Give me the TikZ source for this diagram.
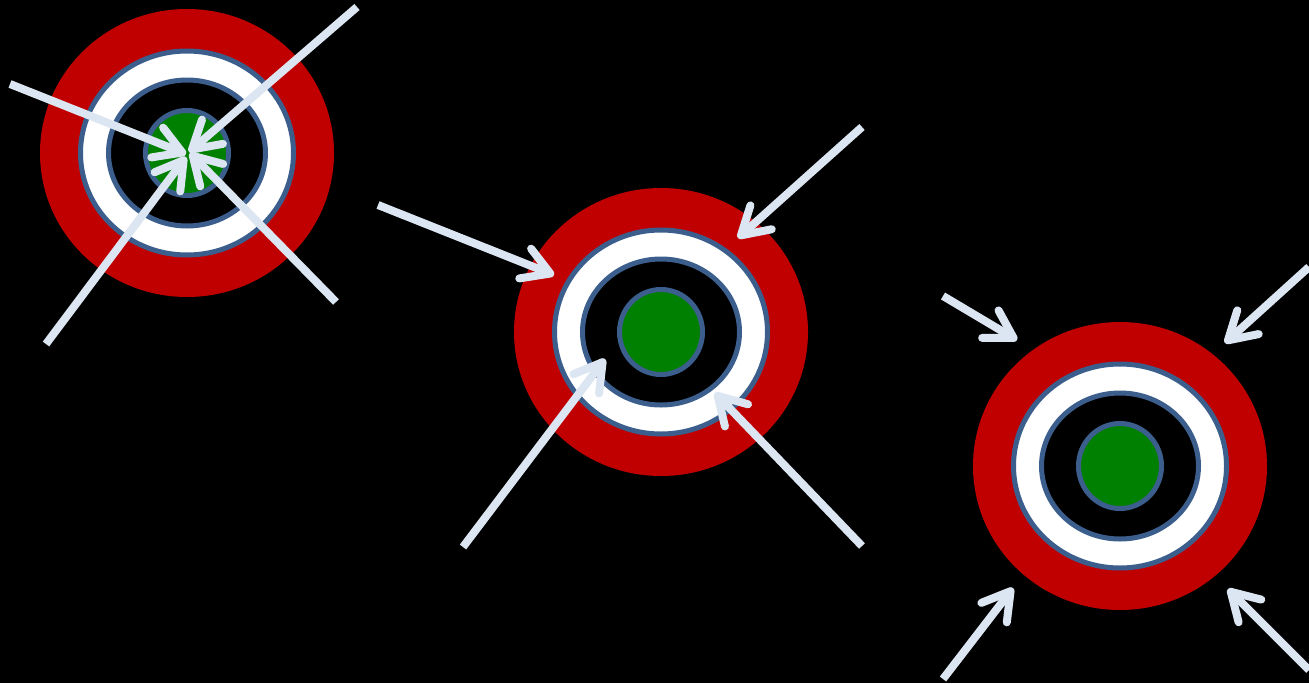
\documentclass[tikz,border=0pt]{standalone}
\usetikzlibrary{arrows.meta}
\definecolor{tred}{HTML}{C00000}
\definecolor{tblue}{HTML}{3B5E8C}
\definecolor{tgreen}{HTML}{008000}
\definecolor{arr}{HTML}{DCE6F2}
\tikzset{
  redring/.style={fill=tred},
  whitering/.style={fill=white, draw=tblue, line width=5pt},
  blackring/.style={fill=black, draw=tblue, line width=5pt},
  bull/.style={fill=tgreen, draw=tblue, line width=5pt},
  hit/.style={draw=arr, line width=8pt,
    -{Straight Barb[length=27pt, width=32pt, round]}}
}
\newcommand{\target}[2]{%
  \fill[redring] (#1) ellipse [x radius=147, y radius=144];
  \draw[whitering] (#1) ellipse [x radius=106.5, y radius=102];
  \draw[blackring] (#1) ellipse [x radius=78.5, y radius=73];
  \draw[bull] (#1) ellipse [x radius=41.5, y radius=42.5];
}
\begin{document}
\begin{tikzpicture}[x=1pt, y=-1pt]
\fill[black] (0,0) rectangle (1309,683);
\useasboundingbox (0,0) rectangle (1309,683);
\coordinate (t1) at (187,153);
\coordinate (t2) at (661,332);
\coordinate (t3) at (1120,466);
\target{t1}{}
\target{t2}{}
\target{t3}{}
% target 1 arrows
\coordinate (a1s) at (10,84);   \coordinate (a1e) at (186,154);
\coordinate (a2s) at (357,7);   \coordinate (a2e) at (189,152);
\coordinate (a3s) at (46,344);  \coordinate (a3e) at (186,157);
\coordinate (a4s) at (336,302); \coordinate (a4e) at (190,153);
\draw[hit] (a1s) -- (a1e);
\draw[hit] (a2s) -- (a2e);
\draw[hit] (a3s) -- (a3e);
\draw[hit] (a4s) -- (a4e);
% target 2 arrows
\coordinate (b1s) at (378,205); \coordinate (b1e) at (554,275);
\coordinate (b2s) at (862,127); \coordinate (b2e) at (738,238);
\coordinate (b3s) at (463,547); \coordinate (b3e) at (605,359);
\coordinate (b4s) at (862,546); \coordinate (b4e) at (715,393);
\draw[hit] (b1s) -- (b1e);
\draw[hit] (b2s) -- (b2e);
\draw[hit] (b3s) -- (b3e);
\draw[hit] (b4s) -- (b4e);
% target 3 arrows
\coordinate (c1s) at (943,296);  \coordinate (c1e) at (1017,340);
\coordinate (c2s) at (1309,267); \coordinate (c2e) at (1225,343);
\coordinate (c3s) at (943,679);  \coordinate (c3e) at (1013,588);
\coordinate (c4s) at (1309,670); \coordinate (c4e) at (1228,589);
\draw[hit] (c1s) -- (c1e);
\draw[hit] (c2s) -- (c2e);
\draw[hit] (c3s) -- (c3e);
\draw[hit] (c4s) -- (c4e);
\end{tikzpicture}
\end{document}
